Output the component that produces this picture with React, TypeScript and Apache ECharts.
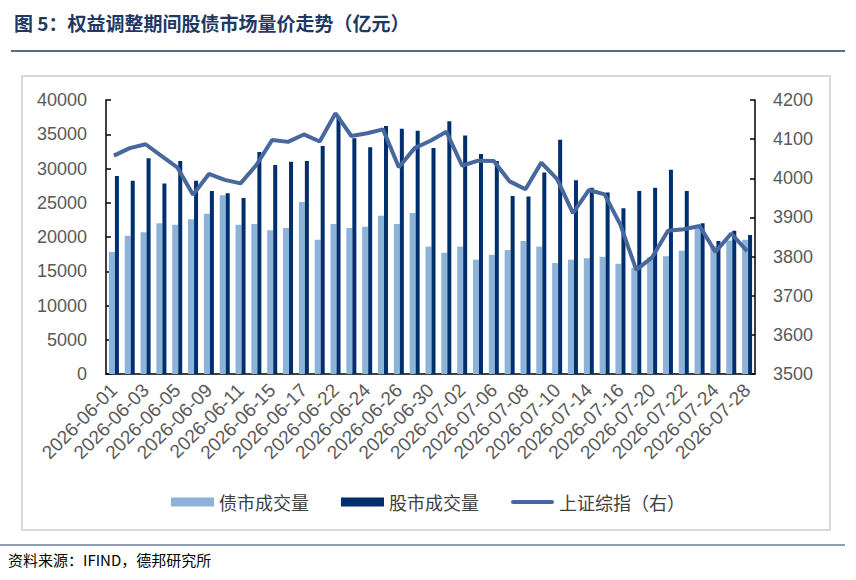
import React, { useEffect, useRef } from "react";
import * as echarts from "echarts";

const dates = [
  "2026-06-01","2026-06-02","2026-06-03","2026-06-04","2026-06-05","2026-06-08","2026-06-09","2026-06-10","2026-06-11","2026-06-12",
  "2026-06-15","2026-06-16","2026-06-17","2026-06-18","2026-06-22","2026-06-23","2026-06-24","2026-06-25","2026-06-26","2026-06-29",
  "2026-06-30","2026-07-01","2026-07-02","2026-07-03","2026-07-06","2026-07-07","2026-07-08","2026-07-09","2026-07-10","2026-07-13",
  "2026-07-14","2026-07-15","2026-07-16","2026-07-17","2026-07-20","2026-07-21","2026-07-22","2026-07-23","2026-07-24","2026-07-27",
  "2026-07-28",
];

const bondVolume = [
  17800, 20200, 20700, 22000, 21800, 22600, 23400, 26100, 21800, 21900,
  21000, 21300, 25100, 19600, 21900, 21300, 21500, 23100, 21900, 23500,
  18600, 17700, 18600, 16700, 17400, 18100, 19400, 18600, 16200, 16700,
  16900, 17100, 16100, 15500, 17000, 17200, 18000, 21300, 18700, 19500,
  19600,
];

const stockVolume = [
  28900, 28200, 31500, 27800, 31100, 28200, 26700, 26400, 25700, 32400,
  30500, 31000, 31100, 33300, 37600, 34400, 33100, 36200, 35800, 35500,
  33000, 36900, 34800, 32100, 31100, 26000, 25900, 29400, 34200, 28300,
  27200, 26500, 24200, 26700, 27200, 29800, 26700, 22000, 19400, 20900,
  20300,
];

const shIndex = [
  4058, 4077, 4087, 4057, 4028, 3958, 4011, 3996, 3987, 4034,
  4098, 4093, 4112, 4094, 4166, 4108, 4115, 4125, 4028, 4077,
  4096, 4119, 4032, 4045, 4044, 3992, 3972, 4040, 3998, 3911,
  3970, 3959, 3881, 3766, 3798, 3866, 3870, 3878, 3812, 3859,
  3814,
];

const seriesNames = ["债市成交量", "股市成交量", "上证综指（右）"];
const titleText = "图 5：权益调整期间股债市场量价走势（亿元）";
const sourceText = "资料来源：IFIND，德邦研究所";

const LIGHT = "#8db3d9";
const DARK = "#002f6e";
const LINE = "#47689e";
const NAVY = "#1f3864";
const GREY = "#595959";

export default function App() {
  const ref = useRef<HTMLDivElement>(null);
  useEffect(() => {
    if (!ref.current) return;
    const chart = echarts.init(ref.current, undefined, { renderer: "svg" });
    const axisFont = "Liberation Sans, Arial, sans-serif";
    const plain = (v: number) => String(v);
    chart.setOption({
      animation: false,
      backgroundColor: "#ffffff",
      grid: { left: 106, right: 101, top: 100, bottom: 206 },
      legend: {
        left: 166,
        top: 488,
        itemWidth: 43,
        itemHeight: 9,
        itemGap: 32,
        textStyle: { fontSize: 18, color: "#404040", fontFamily: "Noto Sans CJK SC" },
        data: [
          { name: seriesNames[0], icon: "rect" },
          { name: seriesNames[1], icon: "rect" },
          { name: seriesNames[2], icon: "path://M2,0 L41,0 A2,2 0 0 1 41,4 L2,4 A2,2 0 0 1 2,0 Z" },
        ],
      },
      xAxis: {
        type: "category",
        data: dates,
        boundaryGap: true,
        axisLine: { lineStyle: { color: "#000", width: 1.5 } },
        axisTick: { interval: 4, inside: true, length: 5, lineStyle: { color: "#000", width: 1.5 } },
        axisLabel: {
          interval: 1,
          rotate: 45,
          fontSize: 19,
          color: GREY,
          fontFamily: axisFont,
          margin: 13,
        },
      },
      yAxis: [
        {
          type: "value",
          min: 0,
          max: 40000,
          interval: 5000,
          splitLine: { show: false },
          axisLine: { show: true, lineStyle: { color: "#000", width: 1.5 } },
          axisTick: { show: true, inside: true, length: 5, lineStyle: { color: "#000", width: 1.5 } },
          axisLabel: { fontSize: 18, color: GREY, fontFamily: axisFont, margin: 19, formatter: plain },
        },
        {
          type: "value",
          min: 3500,
          max: 4200,
          interval: 100,
          position: "right",
          splitLine: { show: false },
          axisLine: { show: true, lineStyle: { color: "#000", width: 1.5 } },
          axisTick: { show: true, inside: true, length: 5, lineStyle: { color: "#000", width: 1.5 } },
          axisLabel: { fontSize: 18, color: GREY, fontFamily: axisFont, margin: 18, formatter: plain },
        },
      ],
      series: [
        {
          name: seriesNames[0],
          type: "bar",
          data: bondVolume,
          barWidth: 6,
          barGap: "0%",
          itemStyle: { color: LIGHT },
        },
        {
          name: seriesNames[1],
          type: "bar",
          data: stockVolume,
          barWidth: 4,
          barGap: "0%",
          itemStyle: { color: DARK },
        },
        {
          name: seriesNames[2],
          type: "line",
          yAxisIndex: 1,
          data: shIndex,
          symbol: "none",
          z: 5,
          lineStyle: { color: LINE, width: 4 },
          itemStyle: { color: LINE },
        },
      ],
      graphic: [
        {
          type: "text",
          left: 14,
          top: 13,
          style: {
            text: titleText,
            fontSize: 19,
            fontWeight: "bold",
            fill: NAVY,
            fontFamily: "Noto Sans CJK SC",
          },
        },
        {
          type: "line",
          shape: { x1: 11, y1: 51, x2: 845, y2: 51 },
          style: { stroke: NAVY, lineWidth: 1.5 },
        },
        {
          type: "rect",
          shape: { x: 22, y: 76, width: 808, height: 454 },
          style: { fill: "none", stroke: "#d9d9d9", lineWidth: 2 },
          z: -1,
        },
        {
          type: "line",
          shape: { x1: 0, y1: 545, x2: 845, y2: 545 },
          style: { stroke: NAVY, lineWidth: 1.2 },
        },
        {
          type: "text",
          left: 8,
          top: 552,
          style: {
            text: sourceText,
            fontSize: 15,
            fill: "#000",
            fontFamily: "Noto Sans CJK SC",
          },
        },
      ],
    });
    return () => chart.dispose();
  }, []);
  return (
    <div
      ref={ref}
      style={{ position: "fixed", left: 0, top: 0, width: 856, height: 580, background: "#fff" }}
    />
  );
}
